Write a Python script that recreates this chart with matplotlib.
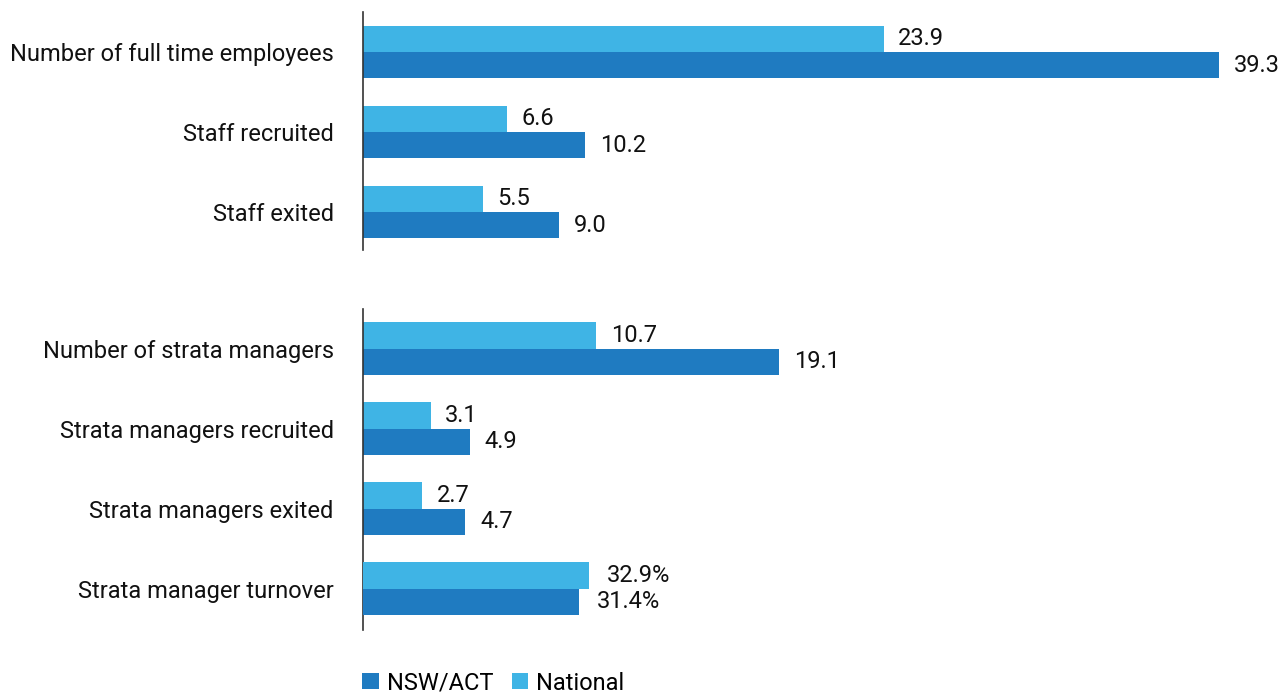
"""Staffing and strata manager comparison: NSW/ACT vs National."""

import matplotlib

matplotlib.use("Agg")
import matplotlib.pyplot as plt
import numpy as np
from matplotlib.patches import Patch

plt.rcParams["font.family"] = ["Roboto", "DejaVu Sans"]

# top panel
staff_categories = ["Number of full time employees", "Staff recruited", "Staff exited"]
staff_national = [23.9, 6.6, 5.5]
staff_nsw_act = [39.3, 10.2, 9.0]

# bottom panel (counts)
manager_categories = [
    "Number of strata managers",
    "Strata managers recruited",
    "Strata managers exited",
]
manager_national = [10.7, 3.1, 2.7]
manager_nsw_act = [19.1, 4.9, 4.7]

# bottom panel (percentage row, own scale)
turnover_category = "Strata manager turnover"
turnover_national = 32.9
turnover_nsw_act = 31.4

NSW_COLOR = "#1f7bc1"
NATIONAL_COLOR = "#3fb4e5"
TEXT_COLOR = "#111111"
FONT_SIZE = 17
BAR_H = 0.33
X_MAX = 42.1
TURNOVER_X_MAX = 133.5
LABEL_OFFSET = 10.5


def style_axis(axis):
    for side in ("top", "right", "bottom"):
        axis.spines[side].set_visible(False)
    axis.spines["left"].set_color("#333333")
    axis.spines["left"].set_linewidth(1.2)
    axis.set_xticks([])
    axis.set_xlim(0, X_MAX)
    axis.tick_params(axis="y", length=0, pad=21, labelsize=FONT_SIZE, labelcolor=TEXT_COLOR)


def draw_pairs(axis, positions, national, nsw_act, fmt="{:.1f}", offset=LABEL_OFFSET):
    positions = np.asarray(positions, dtype=float)
    bars_nat = axis.barh(positions - BAR_H / 2, national, height=BAR_H, color=NATIONAL_COLOR, linewidth=0)
    bars_nsw = axis.barh(positions + BAR_H / 2, nsw_act, height=BAR_H, color=NSW_COLOR, linewidth=0)
    for bars, values in ((bars_nat, national), (bars_nsw, nsw_act)):
        for bar, value in zip(bars, values):
            axis.annotate(
                fmt.format(value),
                xy=(bar.get_width(), bar.get_y() + bar.get_height() / 2),
                xytext=(offset, 0),
                textcoords="offset points",
                va="center",
                ha="left",
                fontsize=FONT_SIZE,
                color=TEXT_COLOR,
                annotation_clip=False,
            )


fig = plt.figure(figsize=(12.8, 6.93), dpi=100)

ax_top = fig.add_axes([363 / 1280, 443 / 693, 917 / 1280, 238 / 693])
style_axis(ax_top)
top_pos = np.arange(len(staff_categories))
draw_pairs(ax_top, top_pos, staff_national, staff_nsw_act)
ax_top.set_yticks(top_pos)
ax_top.set_yticklabels(staff_categories)
ax_top.set_ylim(2.475, -0.5)

ax_bottom = fig.add_axes([363 / 1280, 63 / 693, 917 / 1280, 321 / 693])
style_axis(ax_bottom)
bottom_labels = manager_categories + [turnover_category]
bottom_pos = np.arange(len(bottom_labels))
draw_pairs(ax_bottom, bottom_pos[:3], manager_national, manager_nsw_act)
ax_bottom.set_yticks(bottom_pos)
ax_bottom.set_yticklabels(bottom_labels)
ax_bottom.set_ylim(3.516, -0.496)

# turnover row is on its own percentage scale
ax_turn = ax_bottom.twiny()
ax_turn.set_xlim(0, TURNOVER_X_MAX)
ax_turn.set_axis_off()
draw_pairs(ax_turn, [bottom_pos[3]], [turnover_national], [turnover_nsw_act], fmt="{:.1f}%", offset=13)
ax_turn.set_ylim(3.516, -0.496)

fig.legend(
    handles=[
        Patch(facecolor=NSW_COLOR, label="NSW/ACT"),
        Patch(facecolor=NATIONAL_COLOR, label="National"),
    ],
    loc="center left",
    bbox_to_anchor=(353 / 1280, 10 / 693),
    ncol=2,
    frameon=False,
    fontsize=FONT_SIZE,
    handlelength=0.68,
    handleheight=0.68,
    handletextpad=0.35,
    columnspacing=0.8,
    borderaxespad=0,
)

fig.savefig("out.png", dpi=100)
